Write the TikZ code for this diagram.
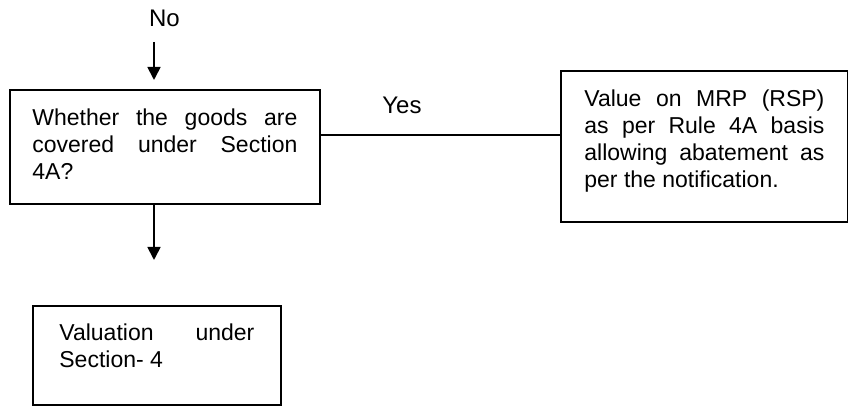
\documentclass[tikz,border=0pt]{standalone}
\usepackage{fontspec}
\setmainfont{Liberation Sans}
\usetikzlibrary{arrows.meta}
\tolerance=10000
\hbadness=10000

\begin{document}
\begin{tikzpicture}[x=0.5pt, y=-0.5pt, line width=0.9pt,
		boxnode/.style={draw, anchor=north west, inner xsep=0pt, inner ysep=0pt, align=justify,
			font=\fontsize{11.5}{13.5}\selectfont},
		labeltext/.style={inner sep=0pt, font=\fontsize{12}{14}\selectfont},
		arrowline/.style={-{Triangle[length=6.5pt,width=6.5pt]}}]
			%%%%% START %%%%%
			
			\useasboundingbox (0, 0) rectangle (848, 406);
			
			\node[labeltext] (no) at (164.5, 18) {No};
			\node[labeltext] (yes) at (402, 105) {Yes};
			
			\node[boxnode, minimum width=155pt, text width=132.5pt, text height=17.75pt, text depth=39.25pt] (cover) at (9, 89)
				{Whether the goods are\linebreak covered under Section\linebreak 4A?};
			\node[boxnode, minimum width=143.5pt, text width=120pt, text height=17.75pt, text depth=57.75pt] (rsp) at (560, 70)
				{Value on MRP (RSP)\linebreak as per Rule 4A basis\linebreak allowing abatement as\linebreak per the notification.};
			\node[boxnode, minimum width=124pt, text width=97.5pt, text height=17.5pt, text depth=32pt] (sec) at (32, 305)
				{Valuation under\linebreak Section- 4};
			
			\coordinate (top) at (154, 42);
			\draw[arrowline, shorten >=4.5pt] (top) -- (top |- cover.north);
			\draw[arrowline, shorten >=22.5pt] (cover.south -| top) -- (top |- sec.north);
			
			\draw ([yshift=-23pt]cover.north east) -- ([yshift=-23pt]cover.north east -| rsp.west);
			
			%%%%% END %%%%%
		\end{tikzpicture}
\end{document}
